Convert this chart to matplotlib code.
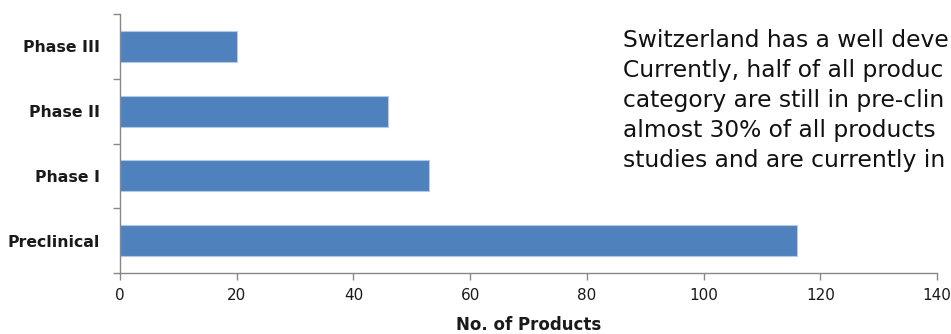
import matplotlib
matplotlib.use("Agg")
import matplotlib.pyplot as plt
import numpy as np

categories = ["Preclinical", "Phase I", "Phase II", "Phase III"]
values = [116, 53, 46, 20]
x_ticks = [0, 20, 40, 60, 80, 100, 120, 140]
x_label = "No. of Products"
note_lines = [
    "Switzerland has a well deve",
    "Currently, half of all produc",
    "category are still in pre-clin",
    "almost 30% of all products",
    "studies and are currently in",
]

FONT = "DejaVu Sans"
W, H = 951, 334
fig = plt.figure(figsize=(W / 100, H / 100), dpi=100)
ax = fig.add_axes([120 / W, (H - 273) / H, (937 - 120) / W, (273 - 14) / H])

y = np.arange(len(categories))
ax.barh(y, values, height=0.48, color="#4F81BD", edgecolor="#B4C9E4", linewidth=0.8, zorder=2)
ax.set_xlim(0, 140)
ax.set_ylim(-0.5, len(categories) - 0.5)

ax.set_yticks(y)
ax.set_yticklabels(categories, fontfamily=FONT, fontweight="bold", fontsize=11.3, color="#1a1a1a")
ax.set_yticks(np.arange(-0.5, len(categories), 1), minor=True)
ax.tick_params(axis="y", which="major", length=0, pad=14.4)
ax.tick_params(axis="y", which="minor", length=5, color="#888888", width=1)

ax.set_xticks(x_ticks)
ax.set_xticklabels([str(v) for v in x_ticks], fontfamily=FONT, fontsize=11, color="#1a1a1a")
ax.tick_params(axis="x", length=5, color="#888888", width=1, pad=6)
ax.set_xlabel(x_label, fontfamily=FONT, fontweight="bold", fontsize=12, color="#1a1a1a", labelpad=9)

for s in ["top", "right"]:
    ax.spines[s].set_visible(False)
for s in ["left", "bottom"]:
    ax.spines[s].set_color("#888888")
    ax.spines[s].set_linewidth(1)

for i, line in enumerate(note_lines):
    fig.text(623 / W, 1 - (47 + 30 * i) / H, line, fontfamily=FONT, fontsize=16.8,
             color="#111111", va="baseline", ha="left")

fig.savefig("out.png", dpi=100, facecolor="white")
